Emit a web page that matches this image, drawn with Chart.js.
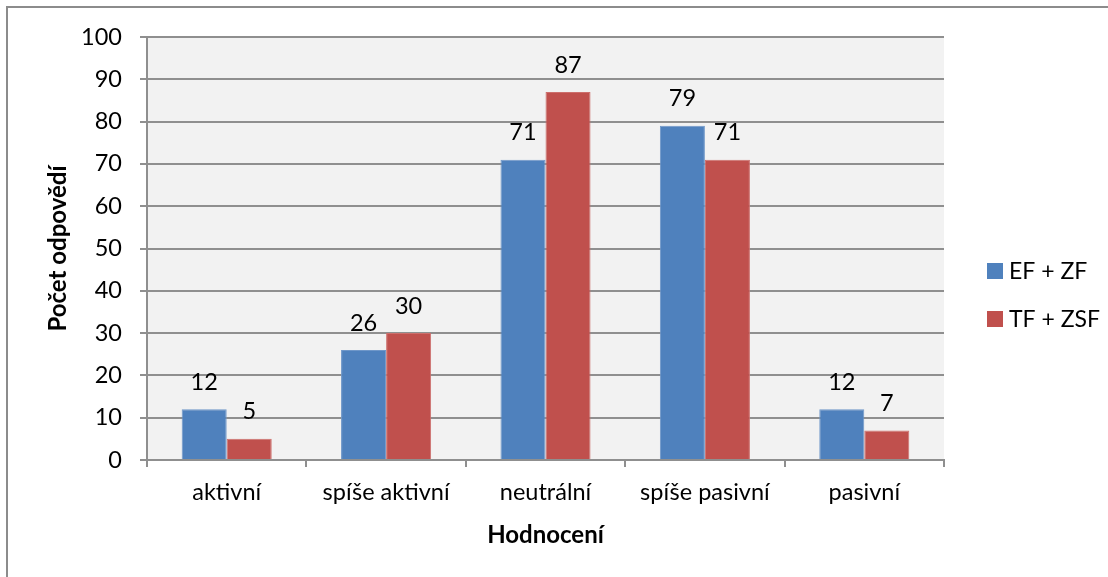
<!DOCTYPE html>
<html>
<head>
<meta charset="utf-8">
<script src="https://cdn.jsdelivr.net/npm/chart.js@4"></script>
<style>
  html, body { margin: 0; padding: 0; background: #fff; }
  #wrap { width: 1108px; height: 577px; }
</style>
</head>
<body>
<div id="wrap"><canvas id="myChart" width="1108" height="577"></canvas></div>
<script>
const categories = ['aktivní', 'spíše aktivní', 'neutrální', 'spíše pasivní', 'pasivní'];
const seriesNames = ['EF + ZF', 'TF + ZSF'];
const efZf = [12, 26, 71, 79, 12];
const tfZsf = [5, 30, 87, 71, 7];
const yTicks = [0, 10, 20, 30, 40, 50, 60, 70, 80, 90, 100];

const FONT = 'Lato, "Open Sans", sans-serif';
const gridGray = '#8f8f8f';

// plot background + outer frame
const backdrop = {
  id: 'backdrop',
  beforeDraw(chart) {
    const { ctx, chartArea: a } = chart;
    ctx.save();
    ctx.fillStyle = '#f2f2f2';
    ctx.fillRect(a.left, a.top, a.right - a.left, a.bottom - a.top);
    ctx.strokeStyle = '#8c8c8c';
    ctx.lineWidth = 2;
    ctx.beginPath();
    ctx.moveTo(1108, 7);
    ctx.lineTo(7, 7);
    ctx.lineTo(7, 577);
    ctx.stroke();
    ctx.restore();
  }
};

// value labels above bars
const valueLabels = {
  id: 'valueLabels',
  afterDatasetsDraw(chart) {
    const { ctx } = chart;
    ctx.save();
    ctx.font = '23.5px ' + FONT;
    ctx.fillStyle = '#000';
    ctx.textAlign = 'center';
    ctx.textBaseline = 'middle';
    chart.data.datasets.forEach((ds, i) => {
      chart.getDatasetMeta(i).data.forEach((bar, j) => {
        ctx.fillText(ds.data[j], bar.x, bar.y - 27);
      });
    });
    ctx.restore();
  }
};

// legend on the right
const sideLegend = {
  id: 'sideLegend',
  afterDraw(chart) {
    const { ctx } = chart;
    ctx.save();
    ctx.font = '23px ' + FONT;
    ctx.textBaseline = 'middle';
    chart.data.datasets.forEach((ds, i) => {
      const y = 271 + i * 48;
      ctx.fillStyle = ds.backgroundColor;
      ctx.fillRect(987, y - 8, 16, 16);
      ctx.fillStyle = '#000';
      ctx.fillText(ds.label, 1009, y + 1);
    });
    ctx.restore();
  }
};

const ctx = document.getElementById('myChart').getContext('2d');

const myChart = new Chart(ctx, {
  type: 'bar',
  data: {
    labels: categories,
    datasets: [{
      label: seriesNames[0],
      data: efZf,
      backgroundColor: '#4f81bd',
      borderColor: '#6f97c9',
      borderWidth: 1
    }, {
      label: seriesNames[1],
      data: tfZsf,
      backgroundColor: '#c0504d',
      borderColor: '#cd6f6c',
      borderWidth: 1
    }]
  },
  plugins: [backdrop, valueLabels, sideLegend],
  options: {
    responsive: false,
    animation: false,
    categoryPercentage: 0.565,
    barPercentage: 1,
    layout: { padding: { left: 0, top: 37, right: 164, bottom: 0 } },
    plugins: {
      legend: { display: false },
      tooltip: { enabled: false }
    },
    scales: {
      x: {
        afterFit(scale) { scale.height = 117; },
        grid: {
          drawOnChartArea: false,
          color: gridGray,
          lineWidth: 2,
          tickLength: 7
        },
        border: { color: gridGray, width: 2 },
        ticks: {
          color: '#000',
          font: { family: FONT, size: 23.5 },
          padding: 11
        },
        title: {
          display: true,
          text: 'Hodnocení',
          color: '#000',
          font: { family: FONT, size: 24, weight: 'bold' },
          padding: { top: 0, bottom: 27 }
        }
      },
      y: {
        min: 0,
        max: 100,
        afterFit(scale) { scale.width = 147; },
        afterBuildTicks(scale) { scale.ticks = yTicks.map(v => ({ value: v })); },
        grid: {
          color: gridGray,
          lineWidth: 2,
          tickLength: 7
        },
        border: { color: gridGray, width: 2 },
        ticks: {
          color: '#000',
          font: { family: FONT, size: 23.5 },
          padding: 18
        },
        title: {
          display: true,
          text: 'Počet odpovědí',
          color: '#000',
          font: { family: FONT, size: 24, weight: 'bold' },
          padding: { top: 44, bottom: 0 }
        }
      }
    }
  }
});
</script>
</body>
</html>
